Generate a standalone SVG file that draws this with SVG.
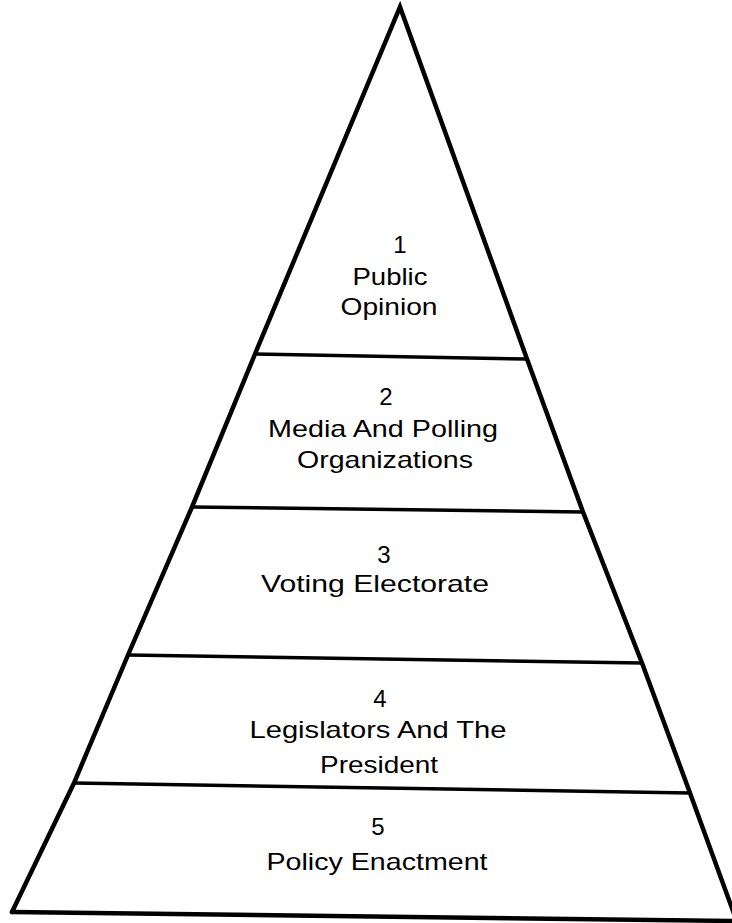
<svg xmlns="http://www.w3.org/2000/svg" width="732" height="923" viewBox="0 0 732 923">
<style>
.edge{fill:none;stroke:#000;stroke-width:4.5;stroke-linejoin:miter;stroke-linecap:round}
.div{fill:none;stroke:#000;stroke-width:3.5}
text{font-family:"Liberation Sans",Arial,sans-serif;font-size:24px;fill:#000;text-anchor:middle}
</style>
<rect width="732" height="923" fill="#fff"/>
<g id="outline">
<path class="edge" d="M12,912 L74,783 L128,655 L192,507 L255,354 L400,7 L527,359 L583,512 L642,663 L690,793 L737,922"/>
<path class="edge" d="M12,912 L736,921"/>
</g>
<g id="connectors">
<line class="div" x1="255" y1="354" x2="527" y2="359"/>
<line class="div" x1="192" y1="507" x2="583" y2="512"/>
<line class="div" x1="128" y1="655" x2="642" y2="663"/>
<line class="div" x1="74" y1="783" x2="690" y2="793"/>
</g>
<g id="layer1">
<text x="400" y="253">1</text>
<text x="390" y="285" textLength="75" lengthAdjust="spacingAndGlyphs">Public</text>
<text x="389" y="315" textLength="97" lengthAdjust="spacingAndGlyphs">Opinion</text>
</g>
<g id="layer2">
<text x="386" y="405">2</text>
<text x="383" y="437" textLength="230" lengthAdjust="spacingAndGlyphs">Media And Polling</text>
<text x="385" y="468" textLength="176" lengthAdjust="spacingAndGlyphs">Organizations</text>
</g>
<g id="layer3">
<text x="384" y="563">3</text>
<text x="375" y="592" textLength="228" lengthAdjust="spacingAndGlyphs">Voting Electorate</text>
</g>
<g id="layer4">
<text x="380" y="707">4</text>
<text x="378" y="738" textLength="257" lengthAdjust="spacingAndGlyphs">Legislators And The</text>
<text x="379" y="773" textLength="118" lengthAdjust="spacingAndGlyphs">President</text>
</g>
<g id="layer5">
<text x="378" y="835">5</text>
<text x="377" y="870" textLength="221" lengthAdjust="spacingAndGlyphs">Policy Enactment</text>
</g>
</svg>
